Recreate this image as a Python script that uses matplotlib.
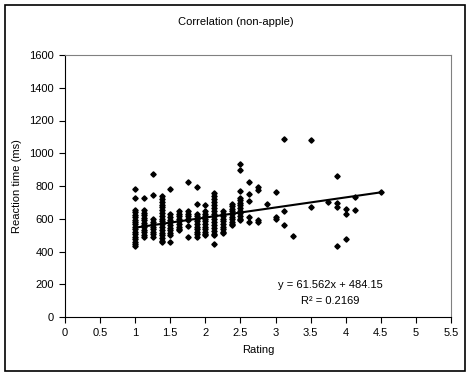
#!/usr/bin/env python3
import matplotlib
matplotlib.use('Agg')
import matplotlib.pyplot as plt
from matplotlib.patches import Rectangle

plt.rcParams['font.family'] = ['Liberation Sans', 'DejaVu Sans']

title = 'Correlation (non-apple)'

# ratings (columns) and the reaction times read at each one
ratings = [1.0, 1.125, 1.25, 1.375, 1.5, 1.625, 1.75, 1.875, 2.0, 2.125,
           2.25, 2.375, 2.5, 2.625, 2.75, 2.875, 3.0, 3.125, 3.25, 3.5,
           3.75, 3.875, 4.0, 4.125, 4.5]
times = [
    [784, 729, 656, 640, 625, 610, 595, 580, 565, 550, 535, 520, 505, 490, 475, 460, 445, 432],
    [729, 653, 638, 622, 607, 592, 577, 562, 547, 532, 517, 503, 490],
    [876, 744, 597, 582, 567, 552, 537, 522, 507, 490],
    [737, 720, 703, 686, 669, 652, 635, 618, 601, 584, 567, 550, 533, 516, 499, 482, 465, 459],
    [784, 626, 610, 594, 578, 562, 546, 530, 515, 500, 459],
    [648, 632, 616, 600, 584, 568, 552, 536, 530],
    [825, 648, 632, 616, 600, 591, 555, 486],
    [791, 693, 632, 616, 600, 584, 568, 552, 536, 520, 505, 490],
    [683, 648, 632, 616, 600, 584, 568, 552, 536, 520, 505, 500],
    [758, 740, 722, 704, 686, 668, 650, 632, 614, 596, 578, 560, 542, 524, 506, 500, 445],
    [648, 632, 616, 600, 584, 568, 552, 536, 520, 510],
    [693, 677, 661, 645, 629, 613, 597, 581, 565, 561],
    [937, 900, 770, 729, 713, 697, 681, 665, 649, 633, 617, 601, 595],
    [825, 750, 709, 611, 581],
    [791, 778, 591, 578],
    [689],
    [764, 611, 600],
    [1085, 646, 559],
    [494],
    [1083, 669],
    [703],
    [861, 697, 669, 433],
    [662, 626, 475],
    [733, 652],
    [765],
]

slope = 61.562
intercept = 484.15
r2 = 0.2169
trend_x = [1.0, 4.5]

xs = []
ys = []
for r, col in zip(ratings, times):
    for t in col:
        xs.append(r)
        ys.append(t)

fig = plt.figure(figsize=(4.72, 3.75), dpi=100)
fig.patches.append(Rectangle((5 / 472, 4 / 375), 460 / 472, 366 / 375,
                             transform=fig.transFigure, fill=False,
                             edgecolor='black', linewidth=1.2))

ax = fig.add_axes([65 / 472, 58 / 375, 386 / 472, 262 / 375])
ax.plot(xs, ys, linestyle='none', marker='D', markersize=2.7,
        color='black', clip_on=False)
ax.plot(trend_x, [slope * x + intercept for x in trend_x],
        color='black', linewidth=1.5)

ax.set_xlim(0, 5.5)
ax.set_ylim(0, 1600)
ax.set_xticks([i * 0.5 for i in range(12)])
ax.set_xticklabels(['0', '0.5', '1', '1.5', '2', '2.5', '3', '3.5', '4', '4.5', '5', '5.5'])
ax.set_yticks(range(0, 1601, 200))
ax.tick_params(direction='out', length=4, width=0.8, labelsize=8, pad=4)

for s in ['top', 'right']:
    ax.spines[s].set_color('#808080')
for s in ['left', 'bottom']:
    ax.spines[s].set_color('black')

ax.set_xlabel('Rating', fontsize=8, labelpad=5)
ax.set_ylabel('Reaction time (ms)', fontsize=8, labelpad=5)

ax.text(3.775, 195, 'y = 61.562x + 484.15', ha='center', va='center', fontsize=8)
ax.text(3.775, 97, 'R\u00b2 = %.4f' % r2, ha='center', va='center', fontsize=8)

fig.text(236 / 472, 1 - 22 / 375, title, ha='center', va='center', fontsize=8)

fig.savefig('out.png', dpi=100)
